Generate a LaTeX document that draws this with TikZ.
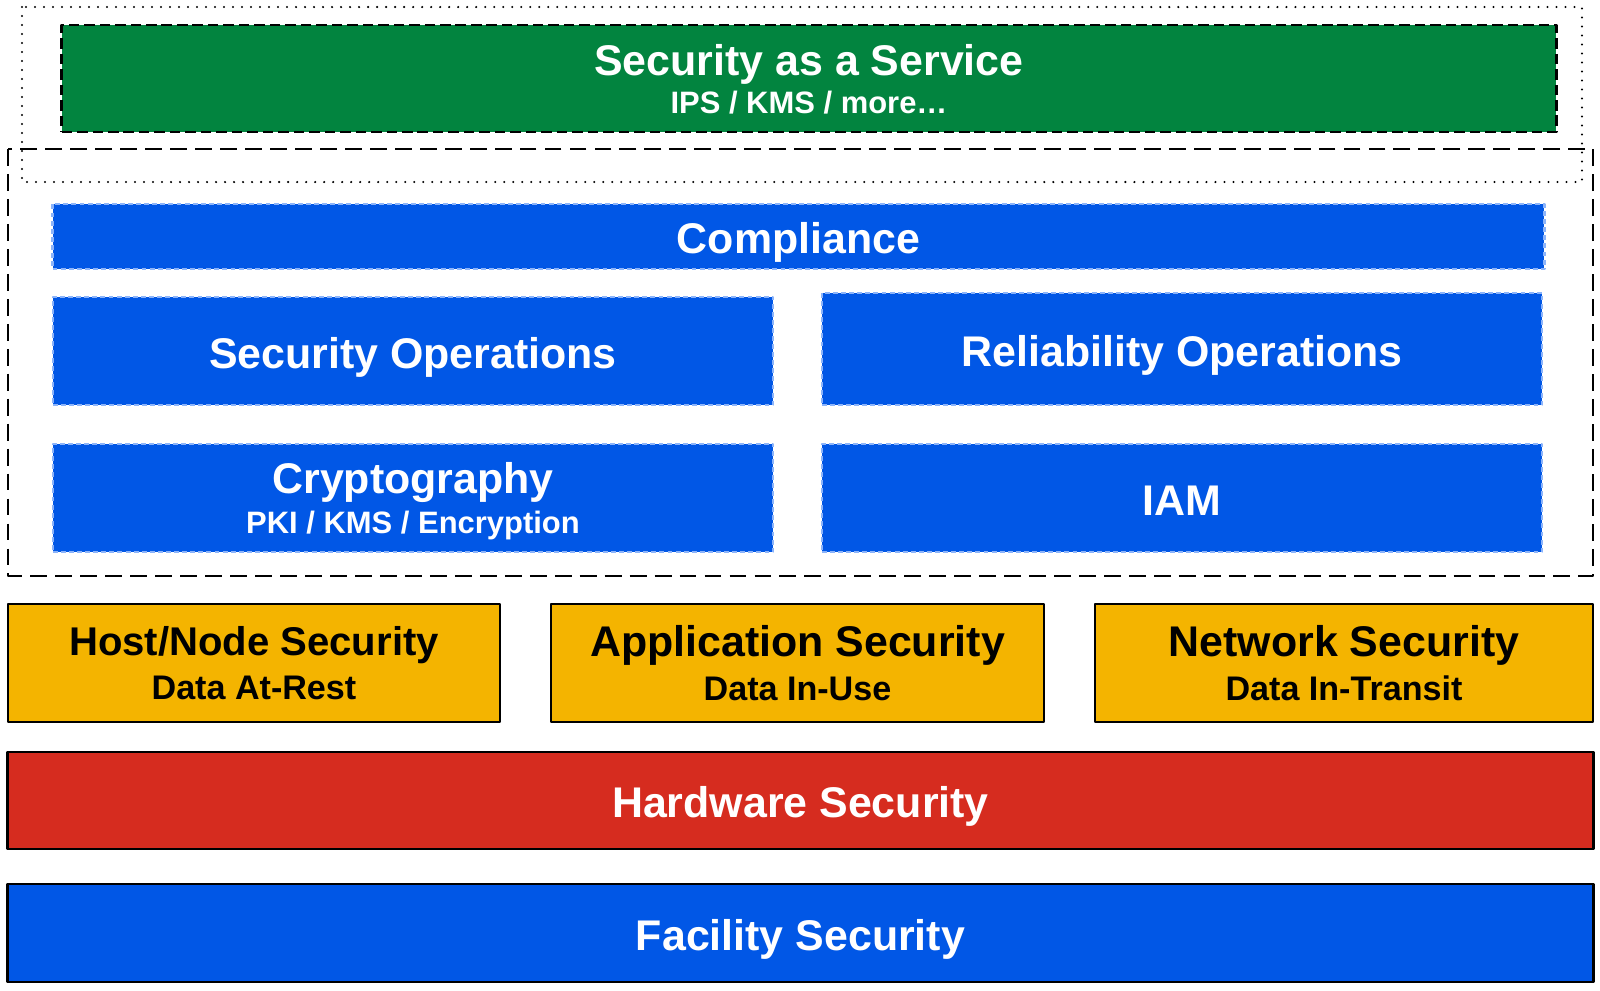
\documentclass[tikz,border=0pt]{standalone}
\usepackage{fontspec}
\setmainfont{Liberation Sans}
\definecolor{saasgreen}{RGB}{2,132,63}
\definecolor{layerblue}{RGB}{1,87,230}
\definecolor{edgeblue}{RGB}{140,180,250}
\definecolor{hostyellow}{RGB}{244,180,0}
\definecolor{hwred}{RGB}{214,44,31}
\newcommand{\mainf}{\fontsize{12.2}{14}\selectfont\bfseries}
\newcommand{\hostf}{\fontsize{11.4}{13}\selectfont\bfseries}
\newcommand{\subf}[1]{\fontsize{8.8}{#1}\selectfont\bfseries}
\newcommand{\yelsubf}{\fontsize{9.7}{12.5}\selectfont\bfseries}
\tikzset{
  layer/.style={rectangle,inner sep=0pt,align=center,text=white,font=\mainf,
    text height=9.9pt,text depth=0pt},
  twoline/.style={text height=,text depth=-2.2pt},
  ctrl/.style={layer,fill=layerblue,draw=edgeblue,line width=0.7pt,dash pattern=on 1.4pt off 0.9pt},
  base/.style={layer,draw=black,line width=0.7pt},
  pillar/.style={base,twoline,fill=hostyellow,text=black,line width=0.6pt,font=\yelsubf}
}
\begin{document}
\begin{tikzpicture}[x=0.01cm,y=-0.01cm,line join=round]
  \useasboundingbox (0,0) rectangle (1600,990);
  % service tier
  \draw[line width=0.65pt,line cap=round,dash pattern=on 0pt off 2.56pt] (22,7) rectangle (1582,182);
  \draw[line width=0.4pt,dash pattern=on 4.8pt off 2.3pt] (8,149) rectangle (1593,576);
  \node[layer,twoline,fill=saasgreen,draw=black,line width=0.75pt,dash pattern=on 3pt off 1.4pt,
    minimum width=14.94cm,minimum height=1.07cm,font=\subf{10.8}] (saas) at (809,78.5)
    {{\mainf Security as a Service}\\IPS / KMS / more…};
  % control plane
  \node[ctrl,minimum width=14.91cm,minimum height=0.65cm] (comp) at (798.5,236.5) {Compliance};
  \node[ctrl,minimum width=7.2cm,minimum height=1.08cm] (secops) at (413,351) {Security Operations};
  \node[ctrl,minimum width=7.2cm,minimum height=1.12cm] (relops) at (1182,349) {Reliability Operations};
  \node[ctrl,twoline,minimum width=7.2cm,minimum height=1.08cm,font=\subf{11.4}] (crypto) at (413,498)
    {{\mainf Cryptography}\\PKI / KMS / Encryption};
  \node[ctrl,minimum width=7.2cm,minimum height=1.08cm] (iam) at (1182,498) {IAM};
  % pillars
  \node[pillar,minimum width=4.92cm,minimum height=1.18cm] (host) at (254,663)
    {{\hostf Host/Node Security}\\Data At-Rest};
  \node[pillar,minimum width=4.93cm,minimum height=1.18cm] (app) at (797.5,663)
    {{\mainf Application Security}\\Data In-Use};
  \node[pillar,minimum width=4.98cm,minimum height=1.18cm] (net) at (1344,663)
    {{\mainf Network Security}\\Data In-Transit};
  % foundation
  \node[base,fill=hwred,minimum width=15.85cm,minimum height=0.97cm] (hw) at (800.5,800.5) {Hardware Security};
  \node[base,fill=layerblue,minimum width=15.85cm,minimum height=0.98cm] (fac) at (800.5,933) {Facility Security};
\end{tikzpicture}
\end{document}
